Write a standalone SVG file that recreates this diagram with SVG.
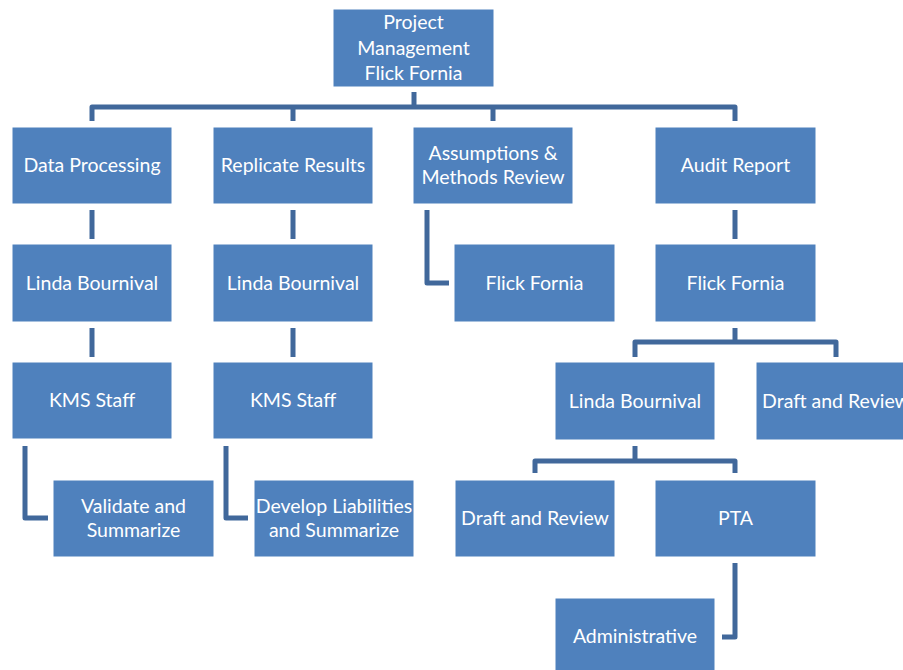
<svg xmlns="http://www.w3.org/2000/svg" width="903" height="670" viewBox="0 0 903 670">
<style>
.box{fill:#4f81bd;stroke:#ffffff;stroke-width:1}
.lbl{font-family:Lato,"Open Sans","Liberation Sans",sans-serif;font-size:19.5px;fill:#ffffff;text-anchor:middle}
.con{fill:none;stroke:#41689b;stroke-width:5;stroke-linejoin:round}
</style>
<rect width="903" height="670" fill="#ffffff"/>
<g id="connectors">
<path class="con" d="M414,92 V107"/>
<path class="con" d="M92,121 V107 H735 V121"/>
<path class="con" d="M293,107 V121 M493,107 V121"/>
<path class="con" d="M92,210 V239 M293,210 V239 M735,210 V239"/>
<path class="con" d="M427,210 V283 H449"/>
<path class="con" d="M92,328 V357 M293,328 V357"/>
<path class="con" d="M735,328 V342"/>
<path class="con" d="M635,357 V342 H836 V357"/>
<path class="con" d="M25,446 V518 H48"/>
<path class="con" d="M226,446 V518 H248"/>
<path class="con" d="M635,446 V461"/>
<path class="con" d="M535,473 V461 H735 V473"/>
<path class="con" d="M735,563 V637 H722"/>
</g>
<g id="n-pm"><rect class="box" x="333" y="9" width="161" height="78"/><text class="lbl" x="413.5" y="29">Project</text><text class="lbl" x="413.5" y="55">Management</text><text class="lbl" x="413.5" y="80">Flick Fornia</text></g>
<g id="n-dp"><rect class="box" x="12" y="127" width="160" height="77"/><text class="lbl" x="92" y="172">Data Processing</text></g>
<g id="n-rr"><rect class="box" x="213" y="127" width="160" height="77"/><text class="lbl" x="293" y="172">Replicate Results</text></g>
<g id="n-amr"><rect class="box" x="413" y="127" width="160" height="77"/><text class="lbl" x="493" y="160">Assumptions &amp;</text><text class="lbl" x="493" y="184">Methods Review</text></g>
<g id="n-ar"><rect class="box" x="655" y="127" width="161" height="77"/><text class="lbl" x="735.5" y="172">Audit Report</text></g>
<g id="n-lb1"><rect class="box" x="12" y="244" width="160" height="78"/><text class="lbl" x="92" y="290">Linda Bournival</text></g>
<g id="n-lb2"><rect class="box" x="213" y="244" width="160" height="78"/><text class="lbl" x="293" y="290">Linda Bournival</text></g>
<g id="n-ff1"><rect class="box" x="454" y="244" width="161" height="78"/><text class="lbl" x="534.5" y="290">Flick Fornia</text></g>
<g id="n-ff2"><rect class="box" x="655" y="244" width="161" height="78"/><text class="lbl" x="735.5" y="290">Flick Fornia</text></g>
<g id="n-kms1"><rect class="box" x="12" y="362" width="160" height="77"/><text class="lbl" x="92" y="407">KMS Staff</text></g>
<g id="n-kms2"><rect class="box" x="213" y="362" width="160" height="77"/><text class="lbl" x="293" y="407">KMS Staff</text></g>
<g id="n-lb3"><rect class="box" x="555" y="362" width="160" height="78"/><text class="lbl" x="635" y="408">Linda Bournival</text></g>
<g id="n-dr1"><rect class="box" x="756" y="362" width="160" height="78"/><text class="lbl" x="836" y="408">Draft and Review</text></g>
<g id="n-vs"><rect class="box" x="53" y="480" width="161" height="77"/><text class="lbl" x="133.5" y="513">Validate and</text><text class="lbl" x="133.5" y="537">Summarize</text></g>
<g id="n-dl"><rect class="box" x="254" y="480" width="160" height="77"/><text class="lbl" x="334" y="513">Develop Liabilities</text><text class="lbl" x="334" y="537">and Summarize</text></g>
<g id="n-dr2"><rect class="box" x="455" y="480" width="160" height="77"/><text class="lbl" x="535" y="525">Draft and Review</text></g>
<g id="n-pta"><rect class="box" x="655" y="480" width="161" height="77"/><text class="lbl" x="735.5" y="525">PTA</text></g>
<g id="n-adm"><rect class="box" x="555" y="598" width="160" height="78"/><text class="lbl" x="635" y="643">Administrative</text></g>
</svg>
